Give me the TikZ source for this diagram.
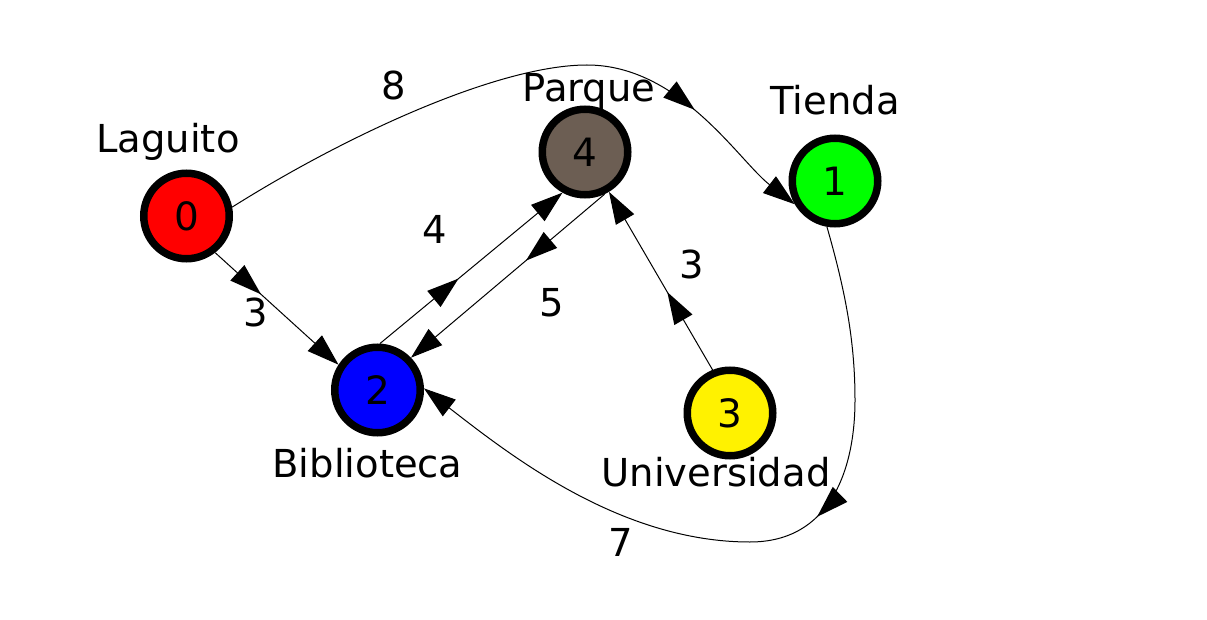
\documentclass[tikz,border=0pt]{standalone}
\usepackage{fontspec}
\setmainfont{DejaVu Sans}
\usetikzlibrary{arrows.meta,decorations.markings}
\definecolor{parkbrown}{RGB}{108,94,83}
\begin{document}
\begin{tikzpicture}[x=1pt,y=-1pt,
  vert/.style={circle,draw=black,line width=7.5pt,minimum size=85.5pt,inner sep=0pt,outer sep=3.75pt,font=\fontsize{39}{46}\selectfont},
  txt/.style={anchor=base,inner sep=0pt,font=\fontsize{38.5}{46}\selectfont},
  conn/.style={line width=1pt,draw=black,-{Triangle[length=32pt,width=21pt]}},
  midarrow/.style={postaction={decorate},decoration={markings,mark=at position #1 with {\fill[black] (0pt,0pt) -- (-32pt,10.5pt) -- (-32pt,-10.5pt) -- cycle;}}}
]
\useasboundingbox (0,0) rectangle (1207,620);
\fill[white] (0,0) rectangle (1207,620);

% vertices
\node[vert,fill=red] (n0) at (186.5,216) {0};
\node[vert,fill=green] (n1) at (835,181) {1};
\node[vert,fill=blue] (n2) at (377.5,390) {2};
\node[vert,fill=yellow] (n3) at (730,413) {3};
\node[vert,fill=parkbrown] (n4) at (585,152) {4};

% vertex names
\node[txt] (l0) at (168,152.3) {Laguito};
\node[txt] (l1) at (835,115) {Tienda};
\node[txt] (l2) at (367.5,477) {Biblioteca};
\node[txt] (l3) at (716,486.7) {Universidad};
\node[txt] (l4) at (589,102) {Parque};

% edges
\draw[conn,midarrow=62pt] (n0.308) -- (n2.147);
\draw[conn,midarrow=505pt] (n0.11) .. controls (350,133) and (500,65) .. (587,65)
   .. controls (680,65) and (739,161) .. (n1.210);
\draw[conn,midarrow=102pt] (n2.87) -- (n4.241);
\draw[conn,midarrow=103pt] (n4.295) -- (n2.44);
\draw[conn,midarrow=90pt] (n3.112) -- (n4.301);
\draw[conn,midarrow=302pt] (n1.260) .. controls (845,290) and (855,340) .. (855,400)
   .. controls (855,470) and (830,542) .. (750,542)
   .. controls (620,542) and (510,455) .. (n2.2);

% weights
\node[txt] (w02) at (256,326.7) {3};
\node[txt] (w01) at (394,99.3) {8};
\node[txt] (w24) at (435,243.3) {4};
\node[txt] (w42) at (552,316.7) {5};
\node[txt] (w34) at (692,278.3) {3};
\node[txt] (w12) at (621,556) {7};
\end{tikzpicture}
\end{document}
